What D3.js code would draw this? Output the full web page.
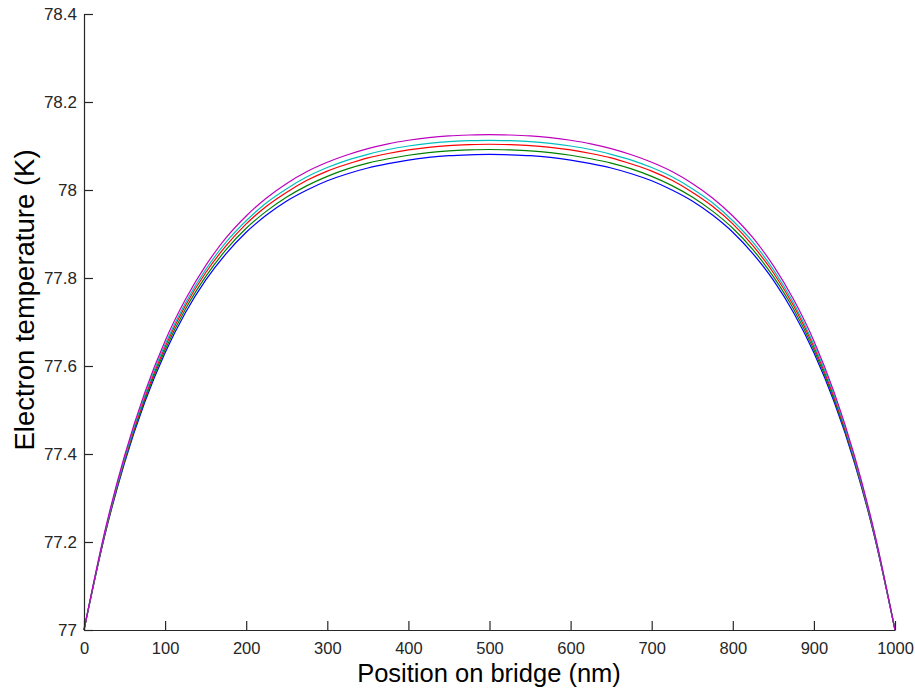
<!DOCTYPE html>
<html>
<head>
<meta charset="utf-8">
<script src="https://cdn.jsdelivr.net/npm/d3@7"></script>
<style>
  html, body { margin: 0; padding: 0; background: #fff; }
  svg { display: block; font-family: "Liberation Sans", Arial, sans-serif; }
</style>
</head>
<body>
<svg id="chart" width="915" height="691"></svg>
<script>
// Position along the bridge (nm)
const positions = [0, 25, 50, 75, 100, 125, 150, 175, 200, 225, 250, 275, 300, 325, 350, 375, 400, 425, 450, 475, 500,
  525, 550, 575, 600, 625, 650, 675, 700, 725, 750, 775, 800, 825, 850, 875, 900, 925, 950, 975, 1000];

// Electron temperature profiles (K), one per bias level
const tempBlue = [77.000, 77.210, 77.380, 77.518, 77.630, 77.721, 77.795, 77.855, 77.904, 77.943, 77.975, 78.000, 78.021, 78.037, 78.050, 78.060, 78.068, 78.074, 78.078, 78.080, 78.081,
  78.080, 78.078, 78.074, 78.068, 78.060, 78.050, 78.037, 78.021, 78.000, 77.975, 77.943, 77.904, 77.855, 77.795, 77.721, 77.630, 77.518, 77.380, 77.210, 77.000];
const tempGreen = [77.000, 77.212, 77.384, 77.524, 77.637, 77.729, 77.803, 77.864, 77.913, 77.952, 77.984, 78.010, 78.031, 78.048, 78.061, 78.071, 78.079, 78.085, 78.089, 78.091, 78.092,
  78.091, 78.089, 78.085, 78.079, 78.071, 78.061, 78.048, 78.031, 78.010, 77.984, 77.952, 77.913, 77.864, 77.803, 77.729, 77.637, 77.524, 77.384, 77.212, 77.000];
const tempRed = [77.000, 77.214, 77.388, 77.529, 77.644, 77.737, 77.812, 77.873, 77.923, 77.963, 77.995, 78.022, 78.043, 78.059, 78.073, 78.083, 78.091, 78.097, 78.101, 78.103, 78.104,
  78.103, 78.101, 78.097, 78.091, 78.083, 78.073, 78.059, 78.043, 78.022, 77.995, 77.963, 77.923, 77.873, 77.812, 77.737, 77.644, 77.529, 77.388, 77.214, 77.000];
const tempCyan = [77.000, 77.216, 77.391, 77.534, 77.649, 77.743, 77.819, 77.881, 77.930, 77.971, 78.003, 78.030, 78.051, 78.068, 78.081, 78.092, 78.100, 78.106, 78.110, 78.112, 78.113,
  78.112, 78.110, 78.106, 78.100, 78.092, 78.081, 78.068, 78.051, 78.030, 78.003, 77.971, 77.930, 77.881, 77.819, 77.743, 77.649, 77.534, 77.391, 77.216, 77.000];
const tempMagenta = [77.000, 77.219, 77.396, 77.540, 77.657, 77.751, 77.828, 77.891, 77.941, 77.982, 78.015, 78.042, 78.063, 78.080, 78.094, 78.105, 78.113, 78.119, 78.123, 78.125, 78.126,
  78.125, 78.123, 78.119, 78.113, 78.105, 78.094, 78.080, 78.063, 78.042, 78.015, 77.982, 77.941, 77.891, 77.828, 77.751, 77.657, 77.540, 77.396, 77.219, 77.000];

const seriesColors = ["#0000ff", "#008000", "#ff0000", "#00bfbf", "#bf00bf"];
const seriesValues = [tempBlue, tempGreen, tempRed, tempCyan, tempMagenta];

const xTicks = [0, 100, 200, 300, 400, 500, 600, 700, 800, 900, 1000];
const yTicks = [77, 77.2, 77.4, 77.6, 77.8, 78, 78.2, 78.4];
const yTickLabels = ["77", "77.2", "77.4", "77.6", "77.8", "78", "78.2", "78.4"];

const svg = d3.select("#chart");
const plot = { left: 84, right: 895, top: 14, bottom: 630 };

const x = d3.scaleLinear().domain([0, 1000]).range([plot.left, plot.right]);
const y = d3.scaleLinear().domain([77, 78.4]).range([plot.bottom, plot.top]);

// Curves
const line = d3.line()
  .x(d => x(d[0]))
  .y(d => y(d[1]))
  .curve(d3.curveMonotoneX);

seriesValues.forEach((vals, i) => {
  svg.append("path")
    .datum(positions.map((p, j) => [p, vals[j]]))
    .attr("fill", "none")
    .attr("stroke", seriesColors[i])
    .attr("stroke-width", 1.2)
    .attr("d", line);
});

// Axes with inward ticks
const axisColor = "#262626";
const xAxis = svg.append("g")
  .attr("transform", `translate(0,${plot.bottom})`)
  .call(d3.axisBottom(x).tickValues(xTicks).tickSizeInner(-9).tickSizeOuter(0).tickPadding(12).tickFormat(d3.format("d")));
const yAxis = svg.append("g")
  .attr("transform", `translate(${plot.left},0)`)
  .call(d3.axisLeft(y).tickValues(yTicks).tickSizeInner(-9).tickSizeOuter(0).tickPadding(7)
    .tickFormat((d, i) => yTickLabels[i]));

[xAxis, yAxis].forEach(g => {
  g.select(".domain").attr("stroke", axisColor).attr("stroke-width", 1.2);
  g.selectAll(".tick line").attr("stroke", axisColor).attr("stroke-width", 1.2);
  g.selectAll(".tick text").attr("fill", "#262626")
    .style("font-family", "'Liberation Sans', Arial, sans-serif");
});
xAxis.selectAll(".tick text").style("font-size", "16.5px");
yAxis.selectAll(".tick text").style("font-size", "17px");

// Axis titles
svg.append("text")
  .attr("x", 489)
  .attr("y", 682)
  .attr("text-anchor", "middle")
  .style("font-size", "25.5px")
  .attr("fill", "#000")
  .text("Position on bridge (nm)");

svg.append("text")
  .attr("transform", `translate(34,300) rotate(-90)`)
  .attr("text-anchor", "middle")
  .style("font-size", "27.5px")
  .attr("fill", "#000")
  .text("Electron temperature (K)");
</script>
</body>
</html>
